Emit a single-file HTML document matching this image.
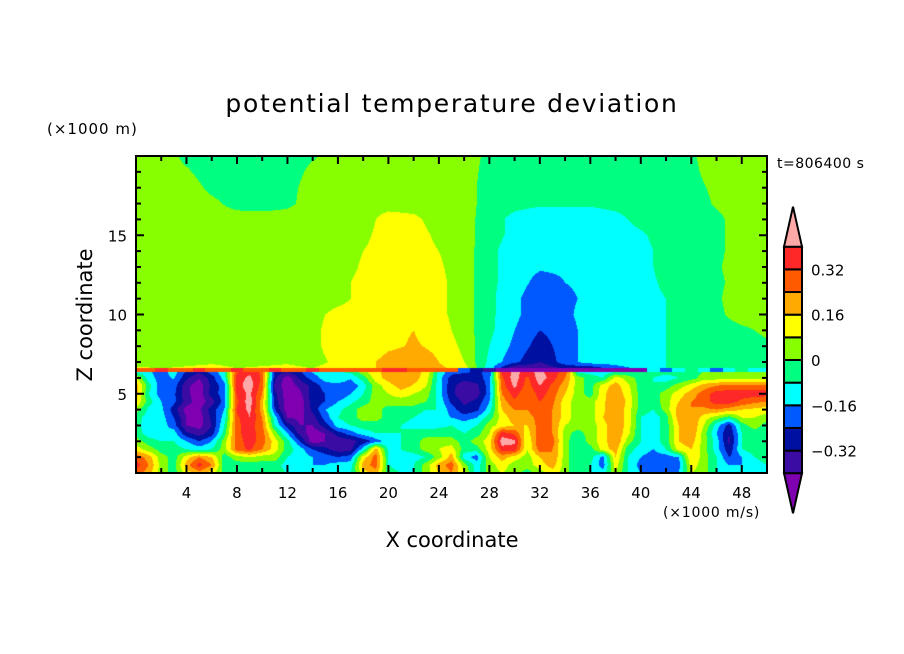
<!DOCTYPE html>
<html><head><meta charset="utf-8">
<style>
html,body{margin:0;padding:0;background:#fff;}
#wrap{position:relative;width:904px;height:654px;overflow:hidden;font-family:"DejaVu Sans","Liberation Sans",sans-serif;}
canvas{position:absolute;left:136px;top:156px;}
svg{position:absolute;left:0;top:0;font-family:"DejaVu Sans","Liberation Sans",sans-serif;}
</style></head><body>
<div id="wrap">
<canvas id="field" width="631" height="317"></canvas>
<svg id="ov" width="904" height="654">
<text x="452" y="112" text-anchor="middle" font-size="25" letter-spacing="1.7">potential temperature deviation</text>
<text x="47" y="134" font-size="15" letter-spacing="1">(×1000 m)</text>
<text x="777" y="168" font-size="14" letter-spacing="0.5">t=806400 s</text>
<text x="0" y="0" transform="translate(92,315) rotate(-90)" text-anchor="middle" font-size="21">Z coordinate</text>
<text x="452" y="547" text-anchor="middle" font-size="21">X coordinate</text>
<text x="663" y="517" font-size="14" letter-spacing="0.8">(×1000 m/s)</text>
<g id="axes"></g>
<g id="cbar"></g>
</svg>
</div>
<script>
// Field values in hundredths of K (cK)
const xTicks=[4,8,12,16,20,24,28,32,36,40,44,48];
const zTicks=[5,10,15];
const levels=[-40,-32,-24,-16,-8,0,8,16,24,32,40];
const levelLabels=["0.32","0.16","0","\u22120.16","\u22120.32"];
const levelLabelValues=[32,16,0,-16,-32];
const colors=["#7f00b0","#3a0ca3","#0010a0","#0058ff","#00ffff","#00ff80","#88ff00","#ffff00","#ffaa00","#ff5a00","#ff2828","#ffa8a8"];

const upperZ=[6.6,7,8,9,10,11,12,13,14,15,16,17,18,19,20];
const upperRows=[
[9,8,9,10,8,9,10,8,12,12,20,24,18,12,-12,-40,-40,-30,-30,-20,-14,-8,-8,-8,-8,-8],
[5,5,6,7,6,6,7,5,10,12,20,22,16,8,-10,-22,-32,-20,-12,-12,-10,-8,-5,-4,-4,-6],
[4,4,4,4,4,4,4,6,12,8,14,17,14,6,-8,-18,-28,-20,-12,-12,-12,-8,-6,-4,-4,-2],
[4,4,4,4,4,4,4,6,12,8,14,16,12,4,-6,-16,-24,-20,-12,-12,-10,-8,-6,-4,-2,2],
[4,4,4,4,4,4,4,6,10,10,14,14,10,4,-6,-14,-22,-18,-12,-12,-10,-8,-6,-2,4,4],
[4,4,4,4,4,4,4,4,6,10,14,14,10,4,-6,-14,-22,-18,-14,-12,-10,-8,-6,-1,4,4],
[4,4,4,4,4,4,4,4,6,10,14,12,10,4,-6,-12,-19,-16,-14,-12,-10,-7,-5,-2,4,4],
[4,4,4,4,4,4,4,4,4,9,12,12,9,4,-6,-12,-15,-15,-14,-12,-10,-6,-4,-1,4,4],
[4,4,4,4,4,4,4,4,4,8,12,12,8,4,-6,-12,-14,-14,-14,-12,-10,-6,-4,-2,4,4],
[4,4,4,4,4,4,4,4,4,6,12,12,6,4,-5,-10,-12,-12,-12,-11,-9,-5,-4,-2,4,4],
[4,4,4,4,4,4,4,4,4,4,12,10,4,4,-5,-10,-12,-12,-12,-10,-6,-5,-4,-2,4,4],
[4,4,4,2,-3,-4,-2,4,4,4,4,4,4,4,-4,-6,-7,-7,-7,-6,-5,-4,-4,1,4,4],
[4,4,4,-2,-4,-4,-3,4,4,4,4,4,4,4,-4,-6,-6,-6,-6,-6,-4,-4,-3,2,4,4],
[4,4,1,-4,-4,-4,-4,2,4,4,4,4,4,4,-3,-4,-4,-4,-4,-4,-4,-4,-2,4,4,4],
[4,4,-2,-4,-4,-4,-4,-1,4,4,4,4,4,4,-2,-4,-4,-4,-4,-4,-4,-4,-1,4,4,4]
];
const bandVals=[28,28,36,28,28,36,28,28,36,28,28,36,28,28,36,28,28,28,28,28,36,36,28,28,28,28,-20,-30,-40,-45,-45,-45,-45,-45,-45,-45,-45,-45,-45,-45,-45,-12,-20,-12,-4,-12,-20,-12,-4,-12,-12];

const lowerZ=[0,0.5,1,1.5,2,2.5,3,3.5,4,4.5,5,5.5,6,6.4];
const lowerRows=[
[28,20,4,-4,12,20,12,-4,-4,-4, -4,-4,-8,-8,-12,-12,-8,-8,12,20, -4,-8,-8,4,16,24,8,-12,4,8, 4,-4,4,12,4,-8,-8,-12,8,-8, -16,-16,-16,-16,8,4,-8,-12,-12,-8, -8],
[36,24,4,-4,20,36,24,-4,-4,-4, -4,-4,-12,-12,-16,-16,-12,-12,20,28, -8,-12,-8,4,20,28,4,-12,4,12, 4,4,12,20,4,-8,-8,-20,12,-8, -20,-20,-20,-20,12,4,-8,-16,-16,-12, -8],
[30,20,4,-4,12,24,16,-4,4,8, 4,4,-8,-12,-16,-20,-24,-20,12,28, -8,-12,-12,-8,4,20,-12,-20,8,20, 12,4,16,24,4,-8,-4,-20,16,-8, -16,-20,-20,-16,16,4,-8,-24,-16,-8, -4],
[12,4,-4,-4,-8,-12,-8,4,28,34, 24,12,-4,-12,-24,-30,-36,-36,-12,20, -10,-8,-4,4,8,12,-4,-4,12,36, 36,8,28,24,4,-8,-4,12,20,-4, -12,-16,-8,12,16,4,-12,-30,-8,-4, -4],
[4,-4,-8,-8,-16,-24,-16,4,28,36, 28,12,-4,-24,-45,-40,-38,-36,-30,-20, -12,-8,-4,4,4,4,-4,4,12,45, 42,8,32,28,4,-8,4,12,24,4, -8,-12,-4,16,20,4,-12,-34,-8,-4, -4],
[-4,-12,-14,-12,-30,-36,-28,-4,30,36, 28,4,-16,-36,-45,-40,-28,-20,-12,-8, -8,-8,-4,-4,-4,-4,-8,-4,8,36, 30,12,30,24,4,-4,4,12,24,10, -8,-12,-4,16,24,4,-16,-32,-8,-4, -4],
[-4,-14,-12,-20,-40,-44,-32,-8,30,36, 26,-8,-28,-40,-40,-28,-12,-8,-4,-4, -8,-8,-12,-12,-10,-8,-12,-8,4,12, 16,16,28,24,8,4,4,12,24,12, -8,-12,-4,16,24,8,-12,-28,-4,4, -4],
[-4,-12,-12,-24,-40,-45,-30,-12,30,40, 24,-12,-40,-42,-36,-20,-8,-4,4,4, -4,-4,-8,-12,-12,-16,-20,-16,-4,12, 20,20,28,24,12,4,4,16,24,12, -8,-12,-4,20,24,12,4,-4,8,8, 4],
[4,-10,-14,-28,-44,-42,-28,-16,34,42, 20,-24,-45,-45,-30,-16,-10,-4,4,4, -4,-4,-4,-8,-8,-20,-30,-26,-12,16, 24,24,32,24,12,4,4,14,24,12, -4,-8,4,20,24,22,24,20,16,14, 12],
[16,-4,-16,-22,-36,-45,-36,-20,30,45, 20,-28,-45,-45,-28,-24,-16,-10,-4,4, 4,4,4,0,-10,-26,-34,-30,-16,20, 30,24,32,26,12,4,4,14,24,14, -4,-4,4,16,24,28,36,36,30,26, 24],
[20,-8,-20,-22,-38,-45,-28,-20,34,42, 24,-30,-45,-42,-28,-24,-24,-16,-8,4, 8,12,8,4,-12,-30,-38,-36,-20,24, 36,24,36,28,16,4,-4,14,22,12, -4,-4,4,12,20,28,36,36,36,36, 36],
[20,-4,-22,-20,-38,-45,-30,-20,36,45, 28,-35,-45,-38,-30,-20,-20,-22,-12,4, 12,20,15,8,-12,-30,-36,-34,-20,28, 42,28,40,30,20,4,-4,12,20,10, -4,-8,-4,4,12,20,24,28,28,28, 28],
[10,-12,-20,-15,-30,-40,-28,-12,36,42, 30,-30,-45,-30,-20,-12,-8,-15,-4,12, 20,24,20,12,-12,-28,-30,-28,-20,30, 45,30,45,36,24,4,-4,-8,12,4, -4,-8,-12,-8,-4,4,4,4,4,4, 4],
[-12,-15,-20,-12,-25,-30,-20,-10,30,38, 30,-28,-30,-25,-15,-10,-10,-5,5,15, 18,20,18,15,-10,-20,-22,-25,-22,35, 42,38,42,35,30,-10,-12,-12,-10,-8, -8,-4,-4,-4,-4,0,4,4,4,4, 4]
];

const X0=136,X1=767,YB=473,YT=156,XMAX=50,ZMAX=20;
const xPx=v=>X0+(v/XMAX)*(X1-X0);
const zPx=v=>YB-(v/ZMAX)*(YB-YT);

function colorFor(v){let b=0;while(b<levels.length&&v>=levels[b])b++;return colors[b];}
function rgb(h){return [parseInt(h.substr(1,2),16),parseInt(h.substr(3,2),16),parseInt(h.substr(5,2),16)];}
function bilin(rows,zs,step,x,z){
  let j=0;while(j<zs.length-2&&z>zs[j+1])j++;
  const t=Math.max(0,Math.min(1,(z-zs[j])/(zs[j+1]-zs[j])));
  const fi=x/step;const n=rows[0].length;
  let i=Math.min(n-2,Math.max(0,Math.floor(fi)));const u=Math.max(0,Math.min(1,fi-i));
  const a=rows[j][i]*(1-u)+rows[j][i+1]*u;
  const b=rows[j+1][i]*(1-u)+rows[j+1][i+1]*u;
  return a*(1-t)+b*t;
}
function valueAt(x,z){
  if(z>=upperZ[0])return bilin(upperRows,upperZ,XMAX/(upperRows[0].length-1),x,z);
  if(z>=lowerZ[lowerZ.length-1]){const fi=x*(bandVals.length-1)/XMAX;const i=Math.round(fi);return bandVals[Math.min(bandVals.length-1,i)];}
  return bilin(lowerRows,lowerZ,XMAX/(lowerRows[0].length-1),x,z);
}
(function(){
  const cv=document.getElementById('field');const ctx=cv.getContext('2d');
  const W=cv.width,H=cv.height;const img=ctx.createImageData(W,H);
  const cache={};
  for(let py=0;py<H;py++){const z=(H-py-0.5)/H*ZMAX;
    for(let px=0;px<W;px++){const x=(px+0.5)/W*XMAX;
      const c=colorFor(valueAt(x,z));const r=cache[c]||(cache[c]=rgb(c));
      const k=(py*W+px)*4;img.data[k]=r[0];img.data[k+1]=r[1];img.data[k+2]=r[2];img.data[k+3]=255;}}
  ctx.putImageData(img,0,0);
})();

const NS='http://www.w3.org/2000/svg';
function mk(tag,attrs,parent){const e=document.createElementNS(NS,tag);for(const k in attrs)e.setAttribute(k,attrs[k]);parent.appendChild(e);return e;}
const axes=document.getElementById('axes');
for(let v=2;v<XMAX;v+=2){
  const major=v%4===0;const L=major?8:5;const x=xPx(v);
  const t1=mk('line',{x1:x,x2:x,y1:YB,y2:YB-L,stroke:'#000','stroke-width':2},axes);
  
  
  const t2=mk('line',{x1:x,x2:x,y1:YT,y2:YT+L,stroke:'#000','stroke-width':2},axes);
  
  
}
for(let v=1;v<ZMAX;v++){
  const major=v%5===0;const L=major?8:5;const y=zPx(v);
  const t1=mk('line',{x1:X0,x2:X0+L,y1:y,y2:y,stroke:'#000','stroke-width':2},axes);
  
  
  const t2=mk('line',{x1:X1,x2:X1-L,y1:y,y2:y,stroke:'#000','stroke-width':2},axes);
  
  
}
const fr=mk('rect',{x:X0,y:YT,width:X1-X0,height:YB-YT,fill:'none',stroke:'#000','stroke-width':2},axes);


xTicks.forEach(v=>{const t=mk('text',{x:xPx(v),y:YB+25,'text-anchor':'middle','font-size':15},axes);t.textContent=v;
  
  });
zTicks.forEach(v=>{const t=mk('text',{x:X0-9,y:zPx(v)+6,'text-anchor':'end','font-size':15},axes);t.textContent=v;
  
  });
const cb=document.getElementById('cbar');
const CBX=784,CBW=18,CBT=246.7,CBB=473.3,nb=levels.length-1,bh=(CBB-CBT)/nb;
const cbY=v=>CBB-(v-levels[0])/(levels[nb]-levels[0])*(CBB-CBT);
for(let i=0;i<nb;i++){
  const r=mk('rect',{x:CBX,y:cbY(levels[i+1]),width:CBW,height:bh,fill:colors[i+1],stroke:'#000','stroke-width':2},cb);
  
  
}
const up=mk('polygon',{points:`${CBX},${CBT} ${CBX+CBW},${CBT} ${CBX+CBW/2},${CBT-40}`,fill:colors[colors.length-1],stroke:'#000','stroke-width':2},cb);


const dn=mk('polygon',{points:`${CBX},${CBB} ${CBX+CBW},${CBB} ${CBX+CBW/2},${CBB+40}`,fill:colors[0],stroke:'#000','stroke-width':2},cb);


levelLabelValues.forEach((v,i)=>{const t=mk('text',{x:811,y:cbY(v)+6,'font-size':15},cb);t.textContent=levelLabels[i];
  
  });
</script>
</body></html>
